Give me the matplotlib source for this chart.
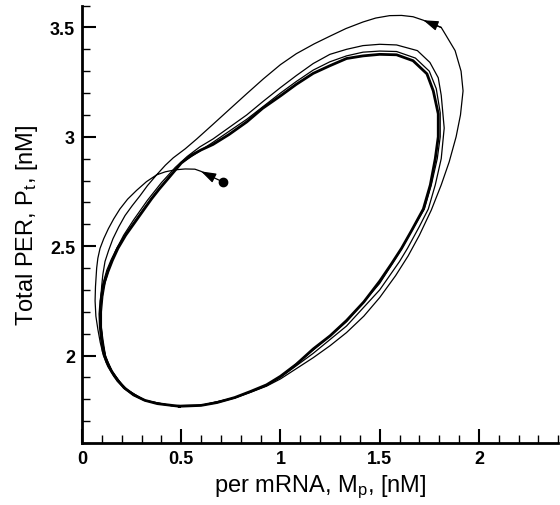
# Goldbeter PER model: phase portrait, trajectory winding onto the limit cycle
import matplotlib
matplotlib.use("Agg")
import matplotlib.pyplot as plt
from matplotlib.ticker import MultipleLocator

plt.rcParams['font.family'] = ['Liberation Sans', 'DejaVu Sans']
plt.rcParams['mathtext.fontset'] = 'custom'
plt.rcParams['mathtext.rm'] = 'Liberation Sans'

# ---- data (M_p, P_t) ----
# transient: from the start dot, first big loop, back to the lower left
trans_m = [0.712, 0.655, 0.600, 0.569, 0.52, 0.469, 0.42, 0.376, 0.325, 0.275,
           0.23, 0.191, 0.16, 0.133, 0.11, 0.091, 0.08, 0.074, 0.068, 0.066,
           0.07, 0.08, 0.092, 0.108, 0.13, 0.16, 0.21, 0.26, 0.31, 0.38,
           0.45, 0.52, 0.60, 0.68, 0.77, 0.85, 0.93, 1.0, 1.08, 1.165,
           1.25, 1.333, 1.42, 1.50, 1.58, 1.643, 1.70, 1.76, 1.81, 1.85,
           1.885, 1.907, 1.92, 1.91, 1.88, 1.83, 1.81, 1.72, 1.668, 1.61,
           1.55, 1.48, 1.416, 1.33, 1.249, 1.17, 1.08, 1.0, 0.914, 0.83,
           0.746, 0.66, 0.578, 0.52, 0.46, 0.42, 0.376, 0.33, 0.292, 0.253,
           0.217, 0.185, 0.156, 0.134, 0.116, 0.105, 0.099, 0.094, 0.094, 0.098,
           0.106, 0.118]
trans_p = [2.793, 2.817, 2.842, 2.852, 2.853, 2.849, 2.84, 2.826, 2.795, 2.755,
           2.715, 2.67, 2.625, 2.58, 2.535, 2.49, 2.445, 2.40, 2.315, 2.25,
           2.18, 2.12, 2.06, 2.0, 1.95, 1.905, 1.85, 1.818, 1.796, 1.78,
           1.771, 1.768, 1.772, 1.784, 1.806, 1.832, 1.86, 1.893, 1.94, 1.99,
           2.045, 2.105, 2.18, 2.265, 2.365, 2.455, 2.55, 2.665, 2.78, 2.885,
           3.0, 3.1, 3.21, 3.30, 3.394, 3.47, 3.50, 3.533, 3.549, 3.555,
           3.554, 3.543, 3.525, 3.495, 3.46, 3.425, 3.38, 3.33, 3.265, 3.197,
           3.128, 3.057, 2.99, 2.945, 2.904, 2.87, 2.826, 2.777, 2.73, 2.685,
           2.64, 2.588, 2.534, 2.48, 2.43, 2.37, 2.315, 2.25, 2.18, 2.11,
           2.05, 1.995]

# second loop
loop2_m = [0.118, 0.15, 0.215, 0.315, 0.45, 0.60, 0.77, 0.93, 1.0, 1.165,
           1.333, 1.50, 1.60, 1.64, 1.70, 1.745, 1.78, 1.81, 1.825, 1.81,
           1.795, 1.753, 1.69, 1.585, 1.50, 1.416, 1.333, 1.249, 1.165, 1.08,
           1.0, 0.91, 0.83, 0.745, 0.66, 0.594, 0.53, 0.47, 0.40, 0.33,
           0.26, 0.21, 0.17, 0.14, 0.118, 0.105, 0.098, 0.098, 0.104, 0.118]
loop2_p = [1.995, 1.93, 1.85, 1.795, 1.771, 1.772, 1.807, 1.862, 1.90, 2.01,
           2.135, 2.30, 2.43, 2.49, 2.59, 2.67, 2.78, 2.90, 3.04, 3.19,
           3.27, 3.34, 3.394, 3.42, 3.423, 3.417, 3.40, 3.377, 3.335, 3.28,
           3.225, 3.16, 3.10, 3.045, 2.99, 2.954, 2.91, 2.86, 2.79, 2.71,
           2.62, 2.55, 2.48, 2.41, 2.34, 2.27, 2.20, 2.13, 2.06, 2.0]

# third loop, already close to the cycle
loop3_m = [0.118, 0.15, 0.216, 0.316, 0.452, 0.60, 0.77, 0.93, 1.0, 1.165,
           1.333, 1.50, 1.605, 1.66, 1.725, 1.76, 1.79, 1.805, 1.805, 1.785,
           1.75, 1.68, 1.585, 1.50, 1.416, 1.333, 1.249, 1.165, 1.08, 1.0,
           0.83, 0.66, 0.56, 0.50, 0.433, 0.351, 0.267, 0.22, 0.178, 0.148,
           0.125, 0.103, 0.093, 0.092, 0.097, 0.106, 0.118]
loop3_p = [2.0, 1.928, 1.85, 1.795, 1.771, 1.772, 1.807, 1.864, 1.903, 2.025,
           2.155, 2.33, 2.48, 2.57, 2.67, 2.78, 2.90, 3.0, 3.11, 3.22,
           3.30, 3.36, 3.39, 3.392, 3.387, 3.37, 3.343, 3.305, 3.253, 3.2,
           3.08, 2.975, 2.915, 2.88, 2.81, 2.72, 2.615, 2.555, 2.495, 2.44,
           2.39, 2.32, 2.25, 2.19, 2.13, 2.07, 2.0]

# limit cycle
cyc_m = [0.49, 0.60, 0.68, 0.77, 0.85, 0.93, 1.0, 1.08, 1.165, 1.25,
         1.333, 1.42, 1.50, 1.56, 1.61, 1.66, 1.72, 1.755, 1.78, 1.795,
         1.795, 1.77, 1.738, 1.668, 1.585, 1.50, 1.416, 1.333, 1.249, 1.165,
         1.08, 1.0, 0.91, 0.83, 0.74, 0.66, 0.60, 0.55, 0.50, 0.433,
         0.39, 0.351, 0.31, 0.267, 0.22, 0.181, 0.153, 0.131, 0.106, 0.095,
         0.09, 0.092, 0.098, 0.107, 0.125, 0.15, 0.18, 0.217, 0.26, 0.317,
         0.38, 0.453, 0.49]
cyc_p = [1.768, 1.772, 1.785, 1.808, 1.836, 1.866, 1.905, 1.96, 2.03, 2.09,
         2.16, 2.245, 2.34, 2.42, 2.49, 2.57, 2.67, 2.78, 2.90, 3.0,
         3.105, 3.21, 3.288, 3.348, 3.375, 3.377, 3.37, 3.358, 3.325, 3.29,
         3.24, 3.187, 3.13, 3.068, 3.01, 2.965, 2.94, 2.915, 2.88, 2.808,
         2.762, 2.717, 2.665, 2.61, 2.55, 2.49, 2.435, 2.384, 2.315, 2.25,
         2.19, 2.13, 2.075, 2.018, 1.97, 1.927, 1.885, 1.85, 1.82, 1.795,
         1.78, 1.772, 1.768]

# arrows sit on these transient segments (base index, tip index)
arrow_idx = [(1, 2), (56, 57)]

fig = plt.figure(figsize=(5.6, 5.06), dpi=100)
ax = fig.add_axes([0.1464, 0.1225, 0.8506, 0.8645])

ax.plot(cyc_m, cyc_p, color='black', lw=2.0, solid_joinstyle='round')
ax.plot(loop3_m, loop3_p, color='black', lw=0.9)
ax.plot(loop2_m, loop2_p, color='black', lw=0.9)
ax.plot(trans_m, trans_p, color='black', lw=0.9)
ax.plot(trans_m[0], trans_p[0], 'o', color='black', ms=6)

for i0, i1 in arrow_idx:
    ax.annotate('', xy=(trans_m[i1], trans_p[i1]), xytext=(trans_m[i0], trans_p[i0]),
                arrowprops=dict(arrowstyle='-|>,head_length=0.9,head_width=0.3',
                                color='black', lw=0.9, shrinkA=0, shrinkB=0))

ax.set_xlim(0, 2.4)
ax.set_ylim(1.6, 3.6)
ax.xaxis.set_minor_locator(MultipleLocator(0.1))
ax.yaxis.set_minor_locator(MultipleLocator(0.1))
ax.set_xticks([0, 0.5, 1, 1.5, 2])
ax.set_xticklabels(['0', '0.5', '1', '1.5', '2'])
ax.set_yticks([2, 2.5, 3, 3.5])
ax.set_yticklabels(['2', '2.5', '3', '3.5'])

ax.spines['top'].set_visible(False)
ax.spines['right'].set_visible(False)
ax.spines['left'].set_linewidth(2)
ax.spines['bottom'].set_linewidth(2)
ax.tick_params(which='major', direction='in', length=10, width=1.5,
               labelsize=13, pad=5)
ax.tick_params(which='minor', direction='in', length=6, width=1)
for lab in ax.get_xticklabels() + ax.get_yticklabels():
    lab.set_fontweight('bold')

ax.set_xlabel('per mRNA, M$\\mathregular{_p}$, [nM]', fontsize=17, labelpad=4)
ax.set_ylabel('Total PER, P$\\mathregular{_t}$, [nM]', fontsize=17, labelpad=7)

fig.savefig('out.png', dpi=100)
